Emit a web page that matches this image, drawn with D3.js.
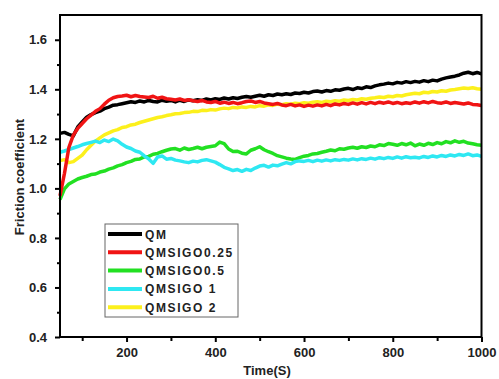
<!DOCTYPE html>
<html><head><meta charset="utf-8">
<script src="https://cdn.jsdelivr.net/npm/d3@7"></script>
<style>
html,body{margin:0;padding:0;background:#fff;}
svg{display:block;font-family:"Liberation Sans",Arial,sans-serif;}
</style></head><body>
<svg id="chart" width="499" height="379"></svg>
<script>
const times = [50,60,70,80,90,100,110,120,130,140,150,160,170,180,190,200,210,220,230,240,250,260,270,280,290,300,310,320,330,340,350,360,370,380,390,400,410,420,430,440,450,460,470,480,490,500,510,520,530,540,550,560,570,580,590,600,610,620,630,640,650,660,670,680,690,700,710,720,730,740,750,760,770,780,790,800,810,820,830,840,850,860,870,880,890,900,910,920,930,940,950,960,970,980,990,1000];

const qm = [1.222,1.226,1.218,1.212,1.248,1.268,1.287,1.298,1.306,1.312,
1.322,1.328,1.336,1.338,1.342,1.346,1.350,1.347,1.353,1.349,
1.355,1.351,1.349,1.356,1.352,1.355,1.349,1.356,1.351,1.357,
1.354,1.358,1.355,1.361,1.357,1.362,1.359,1.365,1.361,1.366,
1.363,1.368,1.371,1.368,1.372,1.376,1.372,1.378,1.375,1.381,
1.378,1.382,1.379,1.385,1.383,1.388,1.385,1.391,1.393,1.389,
1.395,1.392,1.398,1.396,1.401,1.404,1.399,1.406,1.403,1.410,
1.407,1.414,1.418,1.421,1.425,1.422,1.428,1.425,1.431,1.427,
1.432,1.429,1.435,1.431,1.437,1.434,1.441,1.446,1.450,1.453,
1.458,1.465,1.469,1.463,1.468,1.462];

const qmsigo025 = [0.970,1.060,1.165,1.215,1.242,1.262,1.281,1.296,1.311,1.322,
1.340,1.356,1.366,1.371,1.373,1.376,1.370,1.375,1.371,1.369,
1.367,1.372,1.364,1.368,1.362,1.360,1.357,1.361,1.355,1.358,
1.354,1.351,1.355,1.349,1.347,1.351,1.344,1.348,1.343,1.347,
1.342,1.346,1.351,1.353,1.347,1.351,1.345,1.342,1.339,1.343,
1.337,1.334,1.339,1.333,1.337,1.331,1.336,1.332,1.337,1.333,
1.339,1.334,1.341,1.337,1.343,1.339,1.345,1.340,1.346,1.341,
1.347,1.342,1.348,1.344,1.349,1.343,1.347,1.342,1.346,1.343,
1.349,1.344,1.350,1.345,1.351,1.346,1.344,1.349,1.343,1.347,
1.344,1.341,1.345,1.339,1.338,1.335];

const qmsigo05 = [0.955,0.998,1.018,1.028,1.038,1.044,1.049,1.056,1.058,1.066,
1.070,1.078,1.083,1.091,1.096,1.104,1.109,1.117,1.119,1.127,
1.129,1.138,1.141,1.148,1.154,1.159,1.161,1.154,1.163,1.157,
1.161,1.166,1.160,1.166,1.169,1.172,1.187,1.181,1.159,1.149,
1.150,1.142,1.139,1.154,1.160,1.168,1.156,1.148,1.141,1.132,
1.127,1.122,1.119,1.117,1.124,1.130,1.133,1.139,1.141,1.146,
1.150,1.155,1.152,1.160,1.158,1.163,1.166,1.162,1.168,1.165,
1.171,1.168,1.176,1.173,1.181,1.178,1.174,1.181,1.176,1.183,
1.172,1.179,1.174,1.182,1.177,1.185,1.180,1.189,1.184,1.192,
1.186,1.190,1.183,1.180,1.176,1.174];

const qmsigo1 = [1.146,1.151,1.157,1.163,1.169,1.176,1.181,1.186,1.191,1.185,
1.195,1.189,1.199,1.192,1.178,1.167,1.161,1.151,1.146,1.131,
1.119,1.101,1.127,1.131,1.118,1.121,1.114,1.111,1.107,1.104,
1.110,1.107,1.113,1.116,1.111,1.106,1.096,1.085,1.079,1.072,
1.076,1.069,1.077,1.072,1.082,1.090,1.093,1.086,1.094,1.091,
1.098,1.104,1.099,1.108,1.111,1.109,1.113,1.108,1.114,1.110,
1.115,1.111,1.116,1.113,1.117,1.114,1.119,1.115,1.120,1.117,
1.122,1.118,1.124,1.120,1.125,1.121,1.127,1.122,1.128,1.124,
1.126,1.123,1.129,1.125,1.131,1.127,1.133,1.129,1.135,1.131,
1.137,1.133,1.139,1.132,1.135,1.129];

const qmsigo2 = [1.112,1.116,1.104,1.108,1.121,1.134,1.156,1.174,1.191,1.204,
1.216,1.224,1.232,1.237,1.246,1.249,1.256,1.259,1.266,1.271,
1.276,1.281,1.286,1.289,1.294,1.297,1.301,1.302,1.306,1.307,
1.311,1.310,1.315,1.314,1.318,1.316,1.321,1.324,1.322,1.327,
1.325,1.329,1.327,1.331,1.329,1.334,1.332,1.337,1.335,1.340,
1.338,1.342,1.340,1.344,1.342,1.346,1.344,1.348,1.350,1.347,
1.352,1.350,1.354,1.352,1.357,1.355,1.359,1.357,1.362,1.360,
1.364,1.366,1.369,1.367,1.372,1.370,1.375,1.373,1.378,1.381,
1.384,1.382,1.388,1.386,1.391,1.389,1.394,1.392,1.397,1.399,
1.402,1.405,1.403,1.406,1.402,1.400];

const seriesNames = ["QM","QMSIGO0.25","QMSIGO0.5","QMSIGO 1","QMSIGO 2"];
const seriesValues = [qm, qmsigo025, qmsigo05, qmsigo1, qmsigo2];
const seriesColors = ["#000000","#f01414","#22e022","#2ee8f2","#fcf01c"];
const drawOrder = [0, 4, 2, 3, 1];

const xTicks = [200,400,600,800,1000];
const xMinorTicks = [100,300,500,700,900];
const yTicks = [0.4,0.6,0.8,1.0,1.2,1.4,1.6];
const yMinorTicks = [0.5,0.7,0.9,1.1,1.3,1.5];
const xTitle = "Time(S)";
const yTitle = "Friction coefficient";

const svg = d3.select("#chart");
const L = 60, R = 481.5, T = 15, B = 337;
const x = d3.scaleLinear().domain([50,1000]).range([L,R]);
const y = d3.scaleLinear().domain([0.4,1.7]).range([B,T]);

// lines
const line = d3.line().x((d,i)=>x(times[i])).y(d=>y(d));
const gLines = svg.append("g");
drawOrder.forEach(k=>{
  gLines.append("path").datum(seriesValues[k])
    .attr("d", line).attr("fill","none")
    .attr("stroke", seriesColors[k]).attr("stroke-width",3.5)
    .attr("stroke-linejoin","round");
});

// frame
svg.append("rect").attr("x",L).attr("y",T).attr("width",R-L).attr("height",B-T)
  .attr("fill","none").attr("stroke","#000").attr("stroke-width",2);

// axes
svg.append("g").attr("transform",`translate(0,${B})`)
  .call(d3.axisBottom(x).tickValues(xTicks).tickSize(5).tickPadding(6).tickFormat(d3.format("d")));
svg.append("g").attr("transform",`translate(0,${B})`)
  .call(d3.axisBottom(x).tickValues(xMinorTicks).tickSize(4).tickFormat(""));
svg.append("g").attr("transform",`translate(${L},0)`)
  .call(d3.axisLeft(y).tickValues(yTicks).tickSize(5).tickPadding(8).tickFormat(d3.format(".1f")));
svg.append("g").attr("transform",`translate(${L},0)`)
  .call(d3.axisLeft(y).tickValues(yMinorTicks).tickSize(3).tickFormat(""));
svg.selectAll(".domain").remove();
svg.selectAll(".tick line").attr("stroke","#000").attr("stroke-width",2);
svg.selectAll(".tick text").attr("font-family","Liberation Sans, Arial, sans-serif")
  .attr("font-size",13).attr("font-weight","bold").attr("fill","#222");

// titles
svg.append("text").attr("x",267).attr("y",375).attr("text-anchor","middle")
  .attr("font-size",13).attr("font-weight","bold").attr("fill","#222").text(xTitle);
svg.append("text").attr("transform","translate(24,177) rotate(-90)").attr("text-anchor","middle")
  .attr("font-size",13).attr("font-weight","bold").attr("fill","#222").text(yTitle);

// legend
const lg = svg.append("g");
lg.append("rect").attr("x",105).attr("y",224).attr("width",133).attr("height",93)
  .attr("fill","#fff").attr("stroke","#666").attr("stroke-width",1);
seriesNames.forEach((n,i)=>{
  const yy = 234 + i*18.3;
  lg.append("line").attr("x1",108).attr("x2",142).attr("y1",yy).attr("y2",yy)
    .attr("stroke",seriesColors[i]).attr("stroke-width",4);
  lg.append("text").attr("x",145).attr("y",yy+4.5).attr("font-size",12)
    .attr("font-weight","bold").attr("letter-spacing","1.6px").attr("fill","#222").text(n);
});
</script>
</body></html>
